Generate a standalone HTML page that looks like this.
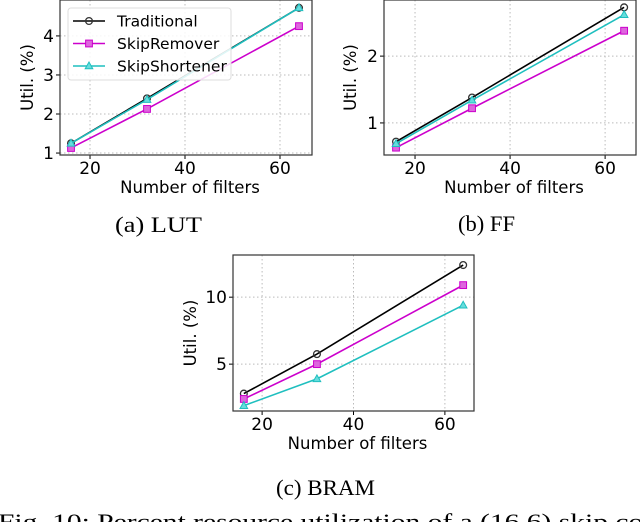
<!DOCTYPE html>
<html><head><meta charset="utf-8"><style>
body{margin:0;background:#fff;width:640px;height:522px;overflow:hidden}
svg{display:block}
.t{font-family:"DejaVu Sans","Liberation Sans",sans-serif;fill:#000}
.s{font-family:"Liberation Serif",serif;fill:#000}
</style></head><body>
<svg id="fig" width="640" height="522" viewBox="0 0 640 522">
<text class="s" x="115" y="232" font-size="22" textLength="87" lengthAdjust="spacingAndGlyphs">(a) LUT</text>
<text class="s" x="458" y="231" font-size="22" textLength="57" lengthAdjust="spacingAndGlyphs">(b) FF</text>
<text class="s" x="276" y="495" font-size="22" textLength="99" lengthAdjust="spacingAndGlyphs">(c) BRAM</text>
<text class="s" x="-2" y="529" font-size="22" textLength="660" lengthAdjust="spacingAndGlyphs">Fig. 10: Percent resource utilization of a (16,6) skip con</text>
</svg>
<script>
const filters = [16, 32, 64];
const lutTrad = [1.25, 2.4, 4.72];
const lutSR = [1.13, 2.13, 4.25];
const lutSS = [1.25, 2.37, 4.72];
const ffTrad = [0.72, 1.38, 2.73];
const ffSR = [0.63, 1.22, 2.38];
const ffSS = [0.69, 1.34, 2.62];
const bramTrad = [2.8, 5.75, 12.4];
const bramSR = [2.4, 5.0, 10.9];
const bramSS = [1.9, 3.9, 9.4];
const xTicks = [20, 40, 60];
const lutTicks = [1, 2, 3, 4];
const ffTicks = [1, 2];
const bramTicks = [5, 10];
const seriesNames = ['Traditional', 'SkipRemover', 'SkipShortener'];

const NS = 'http://www.w3.org/2000/svg';
const svg = document.getElementById('fig');
function mk(tag, attrs, parent) {
  const e = document.createElementNS(NS, tag);
  for (const k in attrs) e.setAttribute(k, attrs[k]);
  (parent || svg).appendChild(e);
  return e;
}
const colors = ['#000000', '#cc00cc', '#1fbfbf'];
const fills = ['#888888', '#dd66dd', '#66dddd'];

function marker(g, kind, x, y) {
  let m;
  if (kind === 0) m = mk('circle', {cx: x, cy: y, r: 3.4, fill: 'none', stroke: '#333', 'stroke-width': 1.3}, g);
  else if (kind === 1) m = mk('rect', {x: x - 3.4, y: y - 3.4, width: 6.8, height: 6.8, fill: fills[1], stroke: colors[1], 'stroke-width': 1}, g);
  else m = mk('polygon', {points: `${x},${y - 4} ${x - 3.8},${y + 2.8} ${x + 3.8},${y + 2.8}`, fill: fills[2], stroke: colors[2], 'stroke-width': 1}, g);
  
  
}

function chart(name, box, xd, yd, yTicks, series, legend) {
  const g = mk('g', {});
  
  
  const X = v => box.l + (v - xd[0]) / (xd[1] - xd[0]) * (box.r - box.l);
  const Y = v => box.b - (v - yd[0]) / (yd[1] - yd[0]) * (box.b - box.t);
  xTicks.forEach(v => {
    const l = mk('line', {x1: X(v), x2: X(v), y1: box.t, y2: box.b, stroke: '#bbb', 'stroke-dasharray': '1.5,2.5', 'stroke-width': 1}, g);
    
    
    mk('line', {x1: X(v), x2: X(v), y1: box.b, y2: box.b + 4, stroke: '#000'}, g);
    const t = mk('text', {x: X(v), y: box.b + 19, 'font-size': 17, 'text-anchor': 'middle', class: 't'}, g);
    t.textContent = v;
    
    
  });
  yTicks.forEach(v => {
    const l = mk('line', {x1: box.l, x2: box.r, y1: Y(v), y2: Y(v), stroke: '#bbb', 'stroke-dasharray': '1.5,2.5', 'stroke-width': 1}, g);
    
    
    mk('line', {x1: box.l - 4, x2: box.l, y1: Y(v), y2: Y(v), stroke: '#000'}, g);
    const t = mk('text', {x: box.l - 6, y: Y(v) + 6, 'font-size': 17, 'text-anchor': 'end', class: 't'}, g);
    t.textContent = v;
    
    
  });
  const fr = mk('rect', {x: box.l, y: box.t, width: box.r - box.l, height: box.b - box.t, fill: 'none', stroke: '#333', 'stroke-width': 1.2}, g);
  
  
  const xl = mk('text', {x: (box.l + box.r) / 2 + 4, y: box.b + 38, 'font-size': 16.5, 'text-anchor': 'middle', class: 't'}, g);
  xl.textContent = 'Number of filters';
  
  
  const cy = (box.t + box.b) / 2;
  const yl = mk('text', {x: box.lx, y: cy, 'font-size': 16.5, 'text-anchor': 'middle', class: 't', transform: `rotate(-90 ${box.lx} ${cy})`}, g);
  yl.textContent = 'Util. (%)';
  
  
  series.forEach((vals, si) => {
    const pts = vals.map((v, i) => X(filters[i]) + ',' + Y(v)).join(' ');
    const pl = mk('polyline', {points: pts, fill: 'none', stroke: colors[si], 'stroke-width': 1.6}, g);
    
    
    vals.forEach((v, i) => marker(g, si, X(filters[i]), Y(v)));
  });
  if (legend) {
    const lg = mk('g', {}, g);
    
    
    mk('rect', {x: 68, y: 8, width: 163, height: 72, rx: 3, fill: 'rgba(255,255,255,0.85)', stroke: '#ddd'}, lg);
    seriesNames.forEach((n, i) => {
      const y = 21 + i * 22.5;
      const e = mk('g', {}, lg);
      
      
      mk('line', {x1: 73, x2: 105, y1: y, y2: y, stroke: colors[i], 'stroke-width': 1.6}, e);
      marker(e, i, 89, y);
      const t = mk('text', {x: 117, y: y + 5.5, 'font-size': 15.5, class: 't'}, e);
      t.textContent = n;
    });
  }
}
chart('lut-chart', {l: 60, r: 312, t: 0, b: 155, lx: 33}, [13.68, 66.74], [0.95, 4.92], lutTicks, [lutTrad, lutSR, lutSS], true);
chart('ff-chart', {l: 384, r: 636, t: 0, b: 155, lx: 356}, [13.47, 66.5], [0.52, 2.84], ffTicks, [ffTrad, ffSR, ffSS], false);
chart('bram-chart', {l: 233, r: 474, t: 255, b: 411, lx: 196}, [13.63, 66.37], [1.5, 13.15], bramTicks, [bramTrad, bramSR, bramSS], false);
</script>
</body></html>
